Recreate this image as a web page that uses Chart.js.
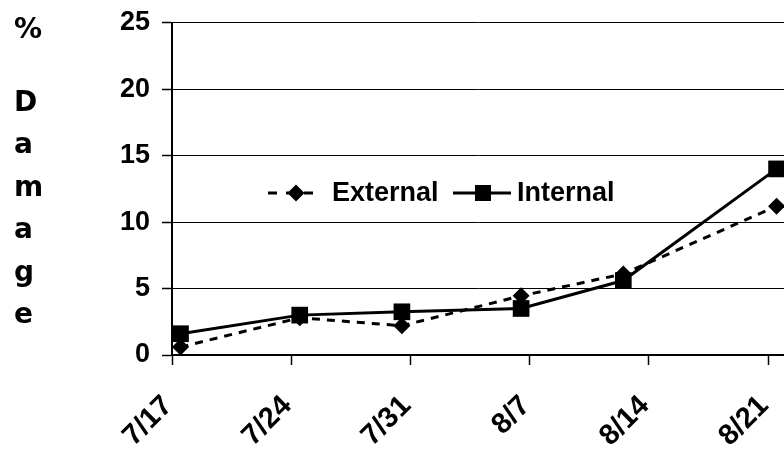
<!DOCTYPE html>
<html>
<head>
<meta charset="utf-8">
<style>
  html, body { margin: 0; padding: 0; background: #fff; overflow: hidden; }
  #wrap { position: relative; width: 784px; height: 454px; }
</style>
<script src="https://cdn.jsdelivr.net/npm/chart.js@4.4.1/dist/chart.umd.min.js"></script>
</head>
<body>
<div id="wrap"><canvas id="damage-chart"></canvas></div>
<script>
const sampleDates = ['7/17', '7/24', '7/30', '8/6', '8/12', '8/21'];
const externalDamage = [0.6, 2.8, 2.2, 4.45, 6.1, 11.2];
const internalDamage = [1.6, 3.0, 3.25, 3.5, 5.6, 14.0];
const xTickLabels = ['7/17', '7/24', '7/31', '8/7', '8/14', '8/21'];
const yTickValues = [0, 5, 10, 15, 20, 25];
const axisTitleLetters = ['%', 'D', 'a', 'm', 'a', 'g', 'e'];
const seriesNames = ['External', 'Internal'];

const START = Date.UTC(2000, 6, 17);
const DAY = 86400000;
const FONT_FAMILY = '"Liberation Sans", Arial, sans-serif';

function dayOffset(label) {
    const [m, d] = label.split('/').map(Number);
    return (Date.UTC(2000, m - 1, d) - START) / DAY;
}

function dayLabel(value) {
    const dt = new Date(START + Math.round(value) * DAY);
    return (dt.getUTCMonth() + 1) + '/' + dt.getUTCDate();
}

// samples plotted at mid-day, like a date axis does
function toPoints(values) {
    return sampleDates.map((d, i) => ({ x: dayOffset(d) + 0.5, y: values[i] }));
}

function drawDiamond(ctx, x, y, r) {
    ctx.beginPath();
    ctx.moveTo(x, y - r);
    ctx.lineTo(x + r, y);
    ctx.lineTo(x, y + r);
    ctx.lineTo(x - r, y);
    ctx.closePath();
    ctx.fill();
}

function drawSquare(ctx, x, y, half) {
    ctx.fillRect(x - half, y - half, half * 2, half * 2);
}

const decorations = {
    id: 'decorations',
    afterDraw(chart) {
        const ctx = chart.ctx;
        ctx.save();
        ctx.fillStyle = '#000';
        ctx.strokeStyle = '#000';

        // stacked y title
        ctx.font = 'bold 28px "Comic Sans MS", "DejaVu Sans", sans-serif';
        ctx.textAlign = 'left';
        ctx.textBaseline = 'alphabetic';
        axisTitleLetters.forEach((ch, i) => {
            const base = i === 0 ? 38 : 111 + (i - 1) * 42.4;
            ctx.fillText(ch, 14, base);
        });

        // legend inside the plot
        const ly = 193;
        ctx.lineWidth = 3;
        ctx.setLineDash([9, 9]);
        ctx.beginPath();
        ctx.moveTo(268, ly);
        ctx.lineTo(313, ly);
        ctx.stroke();
        ctx.setLineDash([]);
        drawDiamond(ctx, 296, ly, 8.5);

        ctx.beginPath();
        ctx.moveTo(453, ly);
        ctx.lineTo(511, ly);
        ctx.stroke();
        drawSquare(ctx, 483, ly, 8);

        ctx.font = 'bold 27px ' + FONT_FAMILY;
        ctx.textBaseline = 'middle';
        ctx.fillText(seriesNames[0], 332, ly + 1);
        ctx.fillText(seriesNames[1], 517, ly + 1);
        ctx.restore();
    },
};

const chart = new Chart(document.getElementById('damage-chart'), {
    type: 'line',
    data: {
        datasets: [
            {
                label: seriesNames[0],
                data: toPoints(externalDamage),
                borderColor: '#000',
                backgroundColor: '#000',
                borderWidth: 3,
                borderDash: [8, 7],
                pointStyle: 'rectRot',
                pointRadius: 8.5,
                pointBorderWidth: 0,
                tension: 0,
                clip: false,
            },
            {
                label: seriesNames[1],
                data: toPoints(internalDamage),
                borderColor: '#000',
                backgroundColor: '#000',
                borderWidth: 3,
                pointStyle: 'rect',
                pointRadius: 11.8,
                pointBorderWidth: 0,
                tension: 0,
                clip: false,
            },
        ],
    },
    options: {
        responsive: true,
        maintainAspectRatio: false,
        animation: false,
        layout: { autoPadding: false, padding: { top: 22.7, left: 0, right: 0, bottom: 0 } },
        plugins: { legend: { display: false }, tooltip: { enabled: false } },
        scales: {
            x: {
                type: 'linear',
                min: 0,
                max: 612 / 17.03,
                afterBuildTicks: (s) => { s.ticks = xTickLabels.map((l) => ({ value: dayOffset(l) })); },
                afterFit: (s) => { s.height = 99; s.paddingLeft = 0; s.paddingRight = 0; },
                grid: { drawOnChartArea: false, drawTicks: true, tickLength: 10, tickColor: '#000', tickWidth: 1.5 },
                border: { display: true, color: '#000', width: 2 },
                ticks: {
                    autoSkip: false,
                    includeBounds: false,
                    minRotation: 45,
                    maxRotation: 45,
                    padding: 24,
                    labelOffset: -4,
                    color: '#000',
                    font: { family: FONT_FAMILY, size: 29, weight: 'bold' },
                    callback: (v) => dayLabel(v),
                },
            },
            y: {
                min: 0,
                max: 25,
                afterBuildTicks: (s) => { s.ticks = yTickValues.map((v) => ({ value: v })); },
                afterFit: (s) => { s.width = 172; s.paddingTop = 0; s.paddingBottom = 0; },
                grid: { color: '#000', lineWidth: 1, drawTicks: true, tickLength: 10, tickColor: '#000', tickWidth: 1.5 },
                border: { display: true, color: '#000', width: 2 },
                ticks: { padding: 12, color: '#000', font: { family: FONT_FAMILY, size: 27, weight: 'bold' } },
            },
        },
    },
    plugins: [decorations],
});
</script>
</body>
</html>
